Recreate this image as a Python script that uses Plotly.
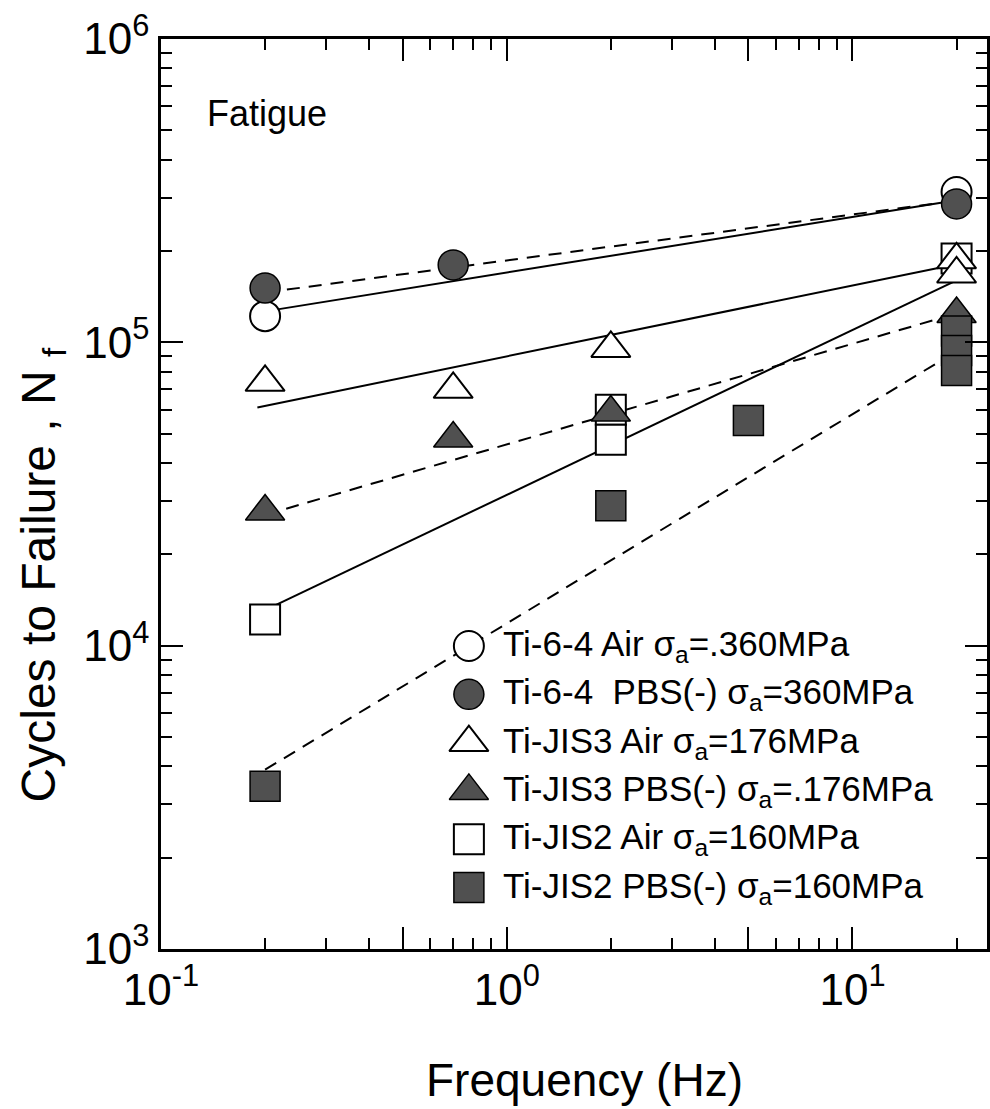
import plotly.graph_objects as go

# ---- measured data: loading frequency (Hz) vs cycles to failure ----
ti64_air_f = [0.2, 20]
ti64_air_n = [1.22e5, 3.13e5]

ti64_pbs_f = [0.2, 0.7, 20]
ti64_pbs_n = [1.51e5, 1.80e5, 2.86e5]

jis3_air_f = [0.2, 0.7, 2, 20, 20]
jis3_air_n = [7.38e4, 7.0e4, 9.55e4, 1.87e5, 1.68e5]

jis3_pbs_f = [0.2, 0.7, 2, 20]
jis3_pbs_n = [2.77e4, 4.82e4, 5.87e4, 1.24e5]

jis2_air_f = [0.2, 2, 2, 20]
jis2_air_n = [1.22e4, 6.0e4, 4.77e4, 1.89e5]

jis2_pbs_f = [0.2, 2, 5, 20, 20, 20]
jis2_pbs_n = [3.44e3, 2.89e4, 5.52e4, 1.09e5, 9.4e4, 8.07e4]

# ---- trend lines (end points) ----
ti64_air_fit_f = [0.2, 20]
ti64_air_fit_n = [1.265e5, 2.94e5]
ti64_pbs_fit_f = [0.2, 20]
ti64_pbs_fit_n = [1.46e5, 2.93e5]
jis3_air_fit_f = [0.19, 20]
jis3_air_fit_n = [6.1e4, 1.81e5]
jis3_pbs_fit_f = [0.2, 20]
jis3_pbs_fit_n = [2.7e4, 1.245e5]
jis2_air_fit_f = [0.2, 20]
jis2_air_fit_n = [1.31e4, 1.6e5]
jis2_pbs_fit_f = [0.2, 20]
jis2_pbs_fit_n = [3.9e3, 9.35e4]

legend_labels = [
    "Ti-6-4 Air σ<sub>a</sub>=.360MPa",
    "Ti-6-4  PBS(-) σ<sub>a</sub>=360MPa",
    "Ti-JIS3 Air σ<sub>a</sub>=176MPa",
    "Ti-JIS3 PBS(-) σ<sub>a</sub>=.176MPa",
    "Ti-JIS2 Air σ<sub>a</sub>=160MPa",
    "Ti-JIS2 PBS(-) σ<sub>a</sub>=160MPa",
]

x_major = [0.1, 0.5, 1, 5, 10]
x_major_text = ["10<sup>-1</sup>", " ", "10<sup>0</sup>", " ", "10<sup>1</sup>"]
x_minor = [0.2, 0.3, 0.4, 0.6, 0.7, 0.8, 0.9, 2, 3, 4, 6, 7, 8, 9, 20]
y_major = [1e3, 1e4, 1e5, 1e6]
y_major_text = ["10<sup>3</sup>", "10<sup>4</sup>", "10<sup>5</sup>", "10<sup>6</sup>"]
y_minor = [m * 10 ** e for e in (3, 4, 5) for m in range(2, 10)]

# ---- page geometry ----
W, H = 990, 1109
ML, MR, MT, MB = 161, 0, 39, 160
PW, PH = W - ML - MR, H - MT - MB

FONT = "Liberation Sans, Arial, Helvetica, sans-serif"
DARK = "#505050"


def px_x(px):
    return (px - ML) / PW


def px_y(py):
    return (H - MB - py) / PH


styles = {
    "oc": dict(symbol="circle", size=30, color="white", line=dict(color="black", width=2)),
    "fc": dict(symbol="circle", size=30, color=DARK, line=dict(color="black", width=1.5)),
    "ot": dict(symbol="triangle-up", size=34, color="white", line=dict(color="black", width=2)),
    "ft": dict(symbol="triangle-up", size=34, color=DARK, line=dict(color="black", width=1.5)),
    "os": dict(symbol="square", size=30, color="white", line=dict(color="black", width=2)),
    "fs": dict(symbol="square", size=30, color=DARK, line=dict(color="black", width=1.5)),
}

fig = go.Figure()

fits = [
    (ti64_air_fit_f, ti64_air_fit_n, "solid"),
    (ti64_pbs_fit_f, ti64_pbs_fit_n, "13px,9px"),
    (jis3_air_fit_f, jis3_air_fit_n, "solid"),
    (jis3_pbs_fit_f, jis3_pbs_fit_n, "13px,9px"),
    (jis2_air_fit_f, jis2_air_fit_n, "solid"),
    (jis2_pbs_fit_f, jis2_pbs_fit_n, "13px,9px"),
]
for fx, fy, dash in fits:
    fig.add_trace(go.Scatter(x=fx, y=fy, mode="lines",
                             line=dict(color="black", width=2, dash=dash),
                             showlegend=False, hoverinfo="skip"))

series = [
    (ti64_air_f, ti64_air_n, "oc"),
    (ti64_pbs_f, ti64_pbs_n, "fc"),
    (jis2_air_f, jis2_air_n, "os"),
    (jis3_air_f, jis3_air_n, "ot"),
    (jis3_pbs_f, jis3_pbs_n, "ft"),
    (jis2_pbs_f, jis2_pbs_n, "fs"),
]
for sx, sy, key in series:
    fig.add_trace(go.Scatter(x=sx, y=sy, mode="markers", marker=styles[key],
                             showlegend=False))

# ---- legend block drawn on an overlay axis spanning the plot area ----
legend_keys = ["oc", "fc", "ot", "ft", "os", "fs"]
row0, row_gap = 646, 48.3
for i, key in enumerate(legend_keys):
    yy = px_y(row0 + i * row_gap)
    fig.add_trace(go.Scatter(x=[px_x(470)], y=[yy], mode="markers",
                             marker=styles[key], xaxis="x2", yaxis="y2",
                             showlegend=False, hoverinfo="skip"))
    fig.add_annotation(x=px_x(502), y=yy, xref="paper", yref="paper",
                       text=legend_labels[i], showarrow=False,
                       xanchor="left", yanchor="middle",
                       font=dict(family=FONT, size=35, color="black"))

fig.add_annotation(x=px_x(205), y=px_y(113), xref="paper", yref="paper",
                   text="Fatigue", showarrow=False, xanchor="left", yanchor="middle",
                   font=dict(family=FONT, size=36, color="black"))

fig.add_annotation(x=px_x(586), y=px_y(1080), xref="paper", yref="paper",
                   text="Frequency (Hz)", showarrow=False,
                   xanchor="center", yanchor="middle",
                   font=dict(family=FONT, size=46, color="black"))

fig.add_annotation(x=px_x(42), y=px_y(575), xref="paper", yref="paper",
                   text="Cycles to Failure , N <sub>f</sub>", showarrow=False,
                   textangle=-90, xanchor="center", yanchor="middle",
                   font=dict(family=FONT, size=48, color="black"))

axis_common = dict(
    type="log", showgrid=False, zeroline=False,
    showline=True, linecolor="black", linewidth=2.5, mirror="ticks",
    ticks="inside", ticklen=22, tickwidth=2, tickcolor="black",
    tickfont=dict(family=FONT, size=44, color="black"),
)

fig.update_layout(
    width=W, height=H,
    margin=dict(l=ML, r=MR, t=MT, b=MB),
    paper_bgcolor="white", plot_bgcolor="white",
    showlegend=False,
    xaxis=dict(range=[-1, -1 + PW / 347.0], tickmode="array",
               tickvals=x_major, ticktext=x_major_text,
               minor=dict(tickmode="array", tickvals=x_minor, ticks="inside",
                          ticklen=11, tickwidth=2, tickcolor="black"),
               **axis_common),
    yaxis=dict(range=[3, 6], tickmode="array",
               tickvals=y_major, ticktext=y_major_text,
               minor=dict(tickmode="array", tickvals=y_minor, ticks="inside",
                          ticklen=11, tickwidth=2, tickcolor="black"),
               **axis_common),
    xaxis2=dict(range=[0, 1], overlaying="x", visible=False),
    yaxis2=dict(range=[0, 1], overlaying="y", visible=False),
)

fig.write_html("out.html")
